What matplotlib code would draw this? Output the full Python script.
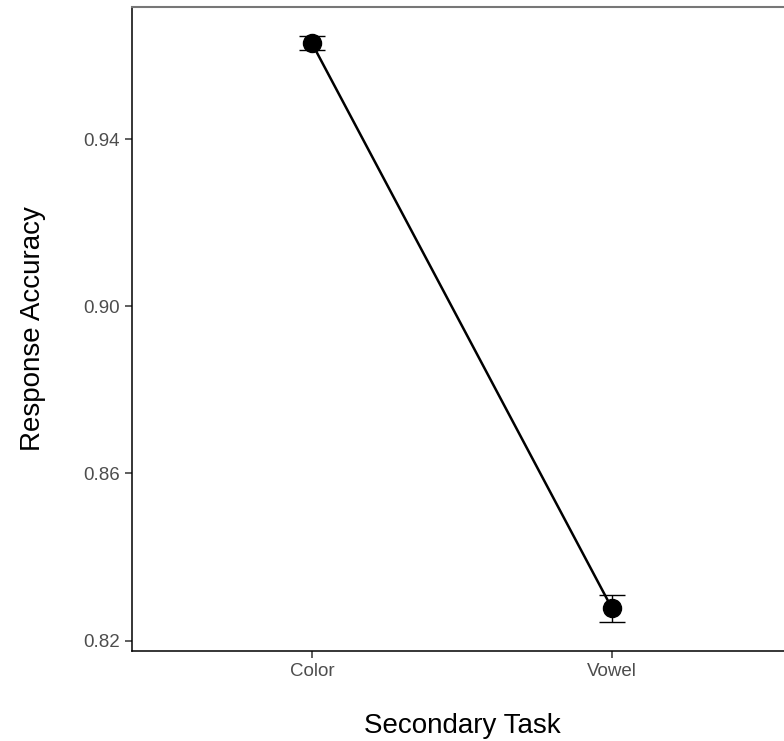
import matplotlib
matplotlib.use("Agg")
import matplotlib.pyplot as plt

plt.rcParams['font.family'] = ['Liberation Sans', 'DejaVu Sans']

tasks = ["Color", "Vowel"]
accuracy = [0.9629, 0.8277]
se = [0.0017, 0.0032]

W, H = 784, 741
fig = plt.figure(figsize=(W / 100, H / 100), dpi=100)
# panel runs past the right edge of the picture (cropped like the original)
left, right, top, bottom = 132, 792, 7, 651
ax = fig.add_axes([left / W, 1 - bottom / H, (right - left) / W, (bottom - top) / H])

x = list(range(1, len(tasks) + 1))
ax.plot(x, accuracy, color='black', lw=1.8, zorder=2)
ax.errorbar(x, accuracy, yerr=se, fmt='none', ecolor='black', elinewidth=1.0,
            capsize=9.5, capthick=1.0, zorder=3)
ax.plot(x, accuracy, 'o', color='black', markersize=13, zorder=4)

ax.set_xlim(0.4, 2.6)
lo = min(a - s for a, s in zip(accuracy, se))
hi = max(a + s for a, s in zip(accuracy, se))
pad = (hi - lo) * 0.05
ax.set_ylim(lo - pad, hi + pad)

ax.set_xticks(x)
ax.set_xticklabels(tasks)
ax.set_yticks([0.82, 0.86, 0.90, 0.94])
ax.set_yticklabels(["0.82", "0.86", "0.90", "0.94"])
ax.tick_params(axis='both', length=5, width=1.1, color='#333333',
               labelcolor='#4D4D4D', labelsize=13.5, pad=4)

for s in ['left', 'bottom']:
    ax.spines[s].set_color('black')
    ax.spines[s].set_linewidth(1.1)
ax.spines['top'].set_color('#777777')
ax.spines['top'].set_linewidth(1.5)
ax.spines['right'].set_visible(False)

fig.text(33 / W, 1 - 329 / H, "Response Accuracy", rotation=90, fontsize=20,
         ha='center', va='center', color='black')
fig.text(462 / W, 1 - 726 / H, "Secondary Task", fontsize=20,
         ha='center', va='center', color='black')

fig.savefig("out.png", dpi=100, facecolor='white')
